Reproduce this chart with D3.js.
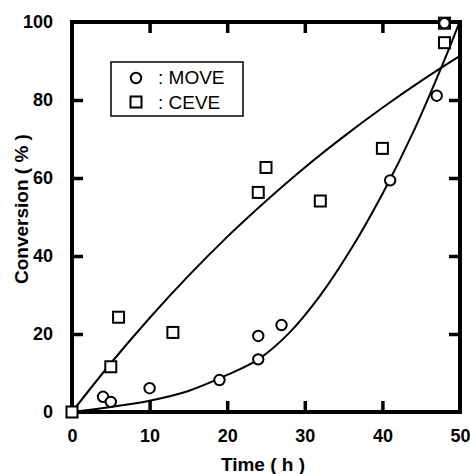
<!DOCTYPE html>
<html>
<head>
<meta charset="utf-8">
<script src="https://cdn.jsdelivr.net/npm/d3@7"></script>
<style>
  body { margin: 0; background: #fff; }
  text { font-family: "Liberation Sans", Arial, sans-serif; fill: #000; }
</style>
</head>
<body>
<div id="chart"></div>
<script>
(function () {

    // measured points
    const moveTime = [4, 5, 10, 19, 24, 24, 27, 41, 47, 48];
    const moveConv = [3.9, 2.6, 6.1, 8.2, 13.5, 19.5, 22.3, 59.4, 81.1, 99.7];
    const ceveTime = [0, 5, 6, 13, 24, 25, 32, 40, 48, 48];
    const ceveConv = [0, 11.6, 24.3, 20.4, 56.3, 62.7, 54.1, 67.6, 94.7, 99.7];

    // fitted curves
    const moveFitTime = [0, 5, 10, 15, 20, 24, 28, 32, 36, 40, 44, 48, 50];
    const moveFitConv = [0, 1.3, 2.9, 5.4, 9.5, 13.5, 20.3, 29.9, 41.9, 55.9, 71.9, 90.3, 100.3];
    const ceveFitTime = [0, 5, 10, 15, 20, 25, 30, 35, 40, 45, 50];
    const ceveFitConv = [0, 12.5, 24.1, 34.9, 44.9, 54.1, 62.7, 70.6, 78.0, 84.9, 91.3];

    const xTicks = [0, 10, 20, 30, 40, 50];
    const yTicks = [0, 20, 40, 60, 80, 100];
    const innerTicks = [10, 20, 30, 40];
    const innerYTicks = [20, 40, 60, 80];

    const width = 470;
    const height = 474;

    const svg = d3.select('#chart')
        .append('svg')
        .attr('width', width)
        .attr('height', height);

    const x = d3.scaleLinear().domain([0, 50]).range([72, 460]);
    const y = d3.scaleLinear().domain([0, 100]).range([412, 22]);

    const zip = (a, b) => a.map((d, i) => [d, b[i]]);

    // ticks pointing inwards on all four sides
    function styleAxis(g) {
        g.select('.domain').remove();
        g.selectAll('.tick line').attr('stroke', '#000').attr('stroke-width', 3.5);
        g.selectAll('.tick text')
            .style('font-family', '"Liberation Sans", Arial, sans-serif')
            .style('font-size', '18px')
            .style('font-weight', 'bold')
            .attr('fill', '#000');
    }

    svg.append('g')
        .attr('transform', `translate(0,${y(0)})`)
        .call(d3.axisBottom(x).tickValues(xTicks).tickSizeInner(-11).tickSizeOuter(0).tickPadding(17))
        .call(styleAxis)
        .call(g => g.selectAll('.tick line').filter(d => d === 0 || d === 50).remove());

    svg.append('g')
        .attr('transform', `translate(0,${y(100)})`)
        .call(d3.axisTop(x).tickValues(innerTicks).tickSizeInner(-11).tickSizeOuter(0).tickFormat(''))
        .call(styleAxis);

    svg.append('g')
        .attr('transform', `translate(${x(0)},0)`)
        .call(d3.axisLeft(y).tickValues(yTicks).tickSizeInner(-11).tickSizeOuter(0).tickPadding(19))
        .call(styleAxis)
        .call(g => g.selectAll('.tick line').filter(d => d === 0 || d === 100).remove());

    svg.append('g')
        .attr('transform', `translate(${x(50)},0)`)
        .call(d3.axisRight(y).tickValues(innerYTicks).tickSizeInner(-11).tickSizeOuter(0).tickFormat(''))
        .call(styleAxis);

    // frame
    svg.append('rect')
        .attr('x', x(0))
        .attr('y', y(100))
        .attr('width', x(50) - x(0))
        .attr('height', y(0) - y(100))
        .attr('fill', 'none')
        .attr('stroke', '#000')
        .attr('stroke-width', 4);

    const line = d3.line()
        .x(d => x(d[0]))
        .y(d => y(d[1]))
        .curve(d3.curveCatmullRom.alpha(0.5));

    svg.append('path')
        .datum(zip(ceveFitTime, ceveFitConv))
        .attr('d', line)
        .attr('fill', 'none')
        .attr('stroke', '#000')
        .attr('stroke-width', 2);

    svg.append('path')
        .datum(zip(moveFitTime, moveFitConv))
        .attr('d', line)
        .attr('fill', 'none')
        .attr('stroke', '#000')
        .attr('stroke-width', 2);

    svg.append('g')
        .selectAll('rect')
        .data(zip(ceveTime, ceveConv))
        .join('rect')
        .attr('x', d => x(d[0]) - 5.5)
        .attr('y', d => y(d[1]) - 5.5)
        .attr('width', 11)
        .attr('height', 11)
        .attr('fill', '#fff')
        .attr('stroke', '#000')
        .attr('stroke-width', 2);

    svg.append('g')
        .selectAll('circle')
        .data(zip(moveTime, moveConv))
        .join('circle')
        .attr('cx', d => x(d[0]))
        .attr('cy', d => y(d[1]))
        .attr('r', 5.2)
        .attr('fill', '#fff')
        .attr('stroke', '#000')
        .attr('stroke-width', 2);

    // legend
    const legend = svg.append('g');
    legend.append('rect')
        .attr('x', 111).attr('y', 62)
        .attr('width', 132).attr('height', 54)
        .attr('fill', '#fff')
        .attr('stroke', '#000')
        .attr('stroke-width', 1.5);
    legend.append('circle')
        .attr('cx', 136).attr('cy', 78).attr('r', 5.2)
        .attr('fill', '#fff').attr('stroke', '#000').attr('stroke-width', 2);
    legend.append('rect')
        .attr('x', 130.5).attr('y', 96.5).attr('width', 11).attr('height', 11)
        .attr('fill', '#fff').attr('stroke', '#000').attr('stroke-width', 2);
    legend.append('text')
        .attr('x', 158).attr('y', 84)
        .style('font-size', '19px')
        .text(': MOVE');
    legend.append('text')
        .attr('x', 158).attr('y', 109)
        .style('font-size', '19px')
        .text(': CEVE');

    // axis titles
    svg.append('text')
        .attr('x', (x(0) + x(50)) / 2 - 3)
        .attr('y', 471)
        .attr('text-anchor', 'middle')
        .style('font-size', '19px')
        .style('font-weight', 'bold')
        .text('Time ( h )');

    svg.append('text')
        .attr('transform', `translate(28,${(y(0) + y(100)) / 2 - 8}) rotate(-90)`)
        .attr('text-anchor', 'middle')
        .style('font-size', '19px')
        .style('font-weight', 'bold')
        .text('Conversion ( % )');

})();
</script>
</body>
</html>
